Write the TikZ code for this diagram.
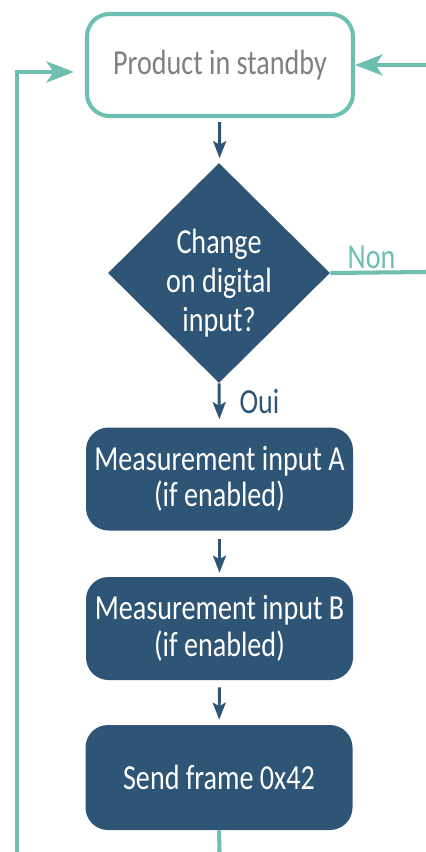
\documentclass[tikz,border=0pt]{standalone}
\usepackage{fontspec}
\setmainfont{Carlito}[FakeStretch=0.80]
\usetikzlibrary{arrows.meta,positioning,shapes.geometric}
\definecolor{mint}{HTML}{6CBFB1}
\definecolor{navy}{HTML}{2E5576}
\definecolor{muted}{HTML}{808080}

\begin{document}
\begin{tikzpicture}[
  font=\fontsize{20}{20.8}\selectfont,
  statebox/.style={rounded corners=0.45cm, draw=mint, line width=2.3pt, fill=white,
    minimum width=5.32cm, minimum height=2.04cm, align=center, text=muted},
  box/.style={rounded corners=0.45cm, fill=navy, draw=none,
    minimum width=5.34cm, minimum height=2.06cm, align=center, text=white},
  decision/.style={diamond, fill=navy, draw=none, inner sep=0pt, aspect=1,
    minimum width=4.44cm, minimum height=4.40cm},
  inside/.style={align=center, text=white, font=\fontsize{20}{22}\selectfont},
  arrow/.style={-{Stealth[length=0.34cm,width=0.26cm,inset=0.07cm]}, line width=1.7pt, draw=navy},
  looparrow/.style={-{Stealth[length=0.55cm,width=0.42cm,inset=0.14cm]}, line width=2.3pt, draw=mint},
  loopline/.style={line width=2.3pt, draw=mint}
]
\useasboundingbox (0,0) rectangle (8.52,-17.04);

\node[statebox] (standby) at (4.40,-1.30) {Product in standby};
\node[decision] (decide) at (4.38,-5.46) {};
\node[inside] (question) at ([yshift=-0.20cm]decide.center) {Change\\on digital\\input?};
\node[box] (measA) at (4.39,-9.58) {Measurement input A\\(if enabled)};
\node[box] (measB) at (4.39,-12.57) {Measurement input B\\(if enabled)};
\node[box, minimum height=2.10cm] (send) at (4.38,-15.55) {Send frame 0x42};

% loose ends leaving the picture
\coordinate (ret) at (0.34,-17.04);
\coordinate (back) at (8.52,-1.30);
\coordinate (nonend) at (8.52,-5.44);
\coordinate (out) at (4.39,-17.04);

\draw[arrow, shorten <=0.08cm, shorten >=0.10cm] (standby) -- (decide);
\draw[arrow, shorten >=0.16cm] (decide.south) -- node[pos=0.42, right=0.26cm, text=navy] (oui) {Oui} (measA.north);
\draw[arrow, shorten <=0.16cm, shorten >=0.08cm] (measA) -- (measB);
\draw[arrow, shorten <=0.14cm, shorten >=0.10cm] (measB) -- (send);

\draw[loopline] (decide.east) -- node[pos=0.43, above, inner sep=1pt, text=mint] (non) {Non} (nonend);
\draw[looparrow] (back) -- (standby.east);
\draw[looparrow, shorten >=0.22cm] (ret) |- ([yshift=-0.14cm]standby.west);
\draw[loopline] (send.south) -- (out);

\end{tikzpicture}
\end{document}
